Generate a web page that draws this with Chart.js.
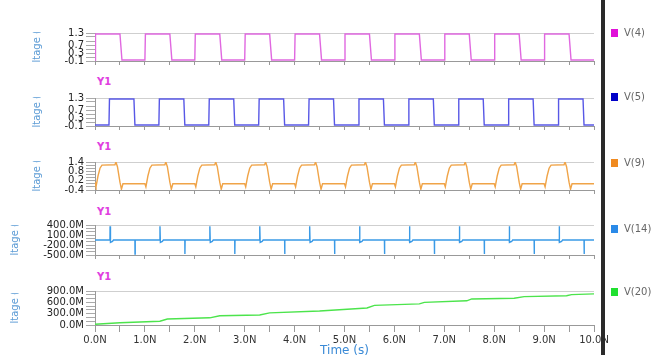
<!DOCTYPE html>
<html><head><meta charset="utf-8">
<script src="https://cdn.jsdelivr.net/npm/chart.js@4"></script>
<style>
html,body{margin:0;padding:0;background:#fff;width:666px;height:355px;overflow:hidden;font-family:'DejaVu Sans',sans-serif;}
.panel{position:absolute;left:0;width:666px;}
.y1{position:absolute;left:97px;font:bold 10px 'DejaVu Sans';color:#e040e0;line-height:10px;}
.bar{position:absolute;left:601px;top:0;width:4px;height:355px;background:#2a2a2a;z-index:5;}
.leg{position:absolute;left:611px;font:10px 'DejaVu Sans';color:#666;line-height:10px;white-space:nowrap;}
.leg span{display:inline-block;width:7px;height:8px;margin-right:6px;vertical-align:-1px;}
</style></head>
<body>
<script>
// ---------- DATA ----------
const seriesNames = ['V(4)', 'V(5)', 'V(9)', 'V(14)', 'V(20)'];

// x axis (time in ns)
const xTickValues = [0,0.5,1,1.5,2,2.5,3,3.5,4,4.5,5,5.5,6,6.5,7,7.5,8,8.5,9,9.5,10];
const xTickLabels = ['0.0N','1.0N','2.0N','3.0N','4.0N','5.0N','6.0N','7.0N','8.0N','9.0N','10.0N'];
const xLabelValues = [0,1,2,3,4,5,6,7,8,9,10];

// y axis ticks per panel
const v4TickValues = [-0.1,0.1,0.3,0.5,0.7,0.9,1.1,1.3];
const v4LabelValues = [1.3,0.7,0.3,-0.1];
const v4Labels = ['1.3','0.7','0.3','-0.1'];
const v5TickValues = [-0.1,0.1,0.3,0.5,0.7,0.9,1.1,1.3];
const v5LabelValues = [1.3,0.7,0.3,-0.1];
const v5Labels = ['1.3','0.7','0.3','-0.1'];
const v9TickValues = [-0.4,-0.2,0,0.2,0.4,0.6,0.8,1.0,1.2,1.4];
const v9LabelValues = [1.4,0.8,0.2,-0.4];
const v9Labels = ['1.4','0.8','0.2','-0.4'];
const v14TickValues = [-500,-400,-300,-200,-100,0,100,200,300,400];
const v14LabelValues = [400,100,-200,-500];
const v14Labels = ['400.0M','100.0M','-200.0M','-500.0M'];
const v20TickValues = [0,100,200,300,400,500,600,700,800,900];
const v20LabelValues = [900,600,300,0];
const v20Labels = ['900.0M','600.0M','300.0M','0.0M'];

// V(4)
const v4Time = [0,0.01,0.5,0.54, 1,1.01,1.5,1.54, 2,2.01,2.5,2.54, 3,3.01,3.5,3.54, 4,4.01,4.5,4.54,
                5,5.01,5.5,5.54, 6,6.01,6.5,6.54, 7,7.01,7.5,7.54, 8,8.01,8.5,8.54, 9,9.01,9.5,9.54, 10];
const v4Volt = [-0.05,1.25,1.25,-0.05, -0.05,1.25,1.25,-0.05, -0.05,1.25,1.25,-0.05, -0.05,1.25,1.25,-0.05, -0.05,1.25,1.25,-0.05,
                -0.05,1.25,1.25,-0.05, -0.05,1.25,1.25,-0.05, -0.05,1.25,1.25,-0.05, -0.05,1.25,1.25,-0.05, -0.05,1.25,1.25,-0.05, -0.05];

// V(5)
const v5Time = [0, 0.28,0.29,0.78,0.8, 1.28,1.29,1.78,1.8, 2.28,2.29,2.78,2.8, 3.28,3.29,3.78,3.8, 4.28,4.29,4.78,4.8,
                5.28,5.29,5.78,5.8, 6.28,6.29,6.78,6.8, 7.28,7.29,7.78,7.8, 8.28,8.29,8.78,8.8, 9.28,9.29,9.78,9.8, 10];
const v5Volt = [-0.05, -0.05,1.25,1.25,-0.05, -0.05,1.25,1.25,-0.05, -0.05,1.25,1.25,-0.05, -0.05,1.25,1.25,-0.05, -0.05,1.25,1.25,-0.05,
                -0.05,1.25,1.25,-0.05, -0.05,1.25,1.25,-0.05, -0.05,1.25,1.25,-0.05, -0.05,1.25,1.25,-0.05, -0.05,1.25,1.25,-0.05, -0.05];

// V(9)
const v9Time = [
 0,0.02,0.06,0.10,0.14,0.40,0.42,0.45,0.50,0.53,0.56,
 1,1.02,1.06,1.10,1.14,1.40,1.42,1.45,1.50,1.53,1.56,
 2,2.02,2.06,2.10,2.14,2.40,2.42,2.45,2.50,2.53,2.56,
 3,3.02,3.06,3.10,3.14,3.40,3.42,3.45,3.50,3.53,3.56,
 4,4.02,4.06,4.10,4.14,4.40,4.42,4.45,4.50,4.53,4.56,
 5,5.02,5.06,5.10,5.14,5.40,5.42,5.45,5.50,5.53,5.56,
 6,6.02,6.06,6.10,6.14,6.40,6.42,6.45,6.50,6.53,6.56,
 7,7.02,7.06,7.10,7.14,7.40,7.42,7.45,7.50,7.53,7.56,
 8,8.02,8.06,8.10,8.14,8.40,8.42,8.45,8.50,8.53,8.56,
 9,9.02,9.06,9.10,9.14,9.40,9.42,9.45,9.50,9.53,9.56,
 10];
const v9Volt = [
 0.1,-0.2,0.5,1.0,1.2,1.22,1.4,1.1,0.1,-0.35,0,
 0,-0.2,0.5,1.0,1.2,1.22,1.4,1.1,0.1,-0.35,0,
 0,-0.2,0.5,1.0,1.2,1.22,1.4,1.1,0.1,-0.35,0,
 0,-0.2,0.5,1.0,1.2,1.22,1.4,1.1,0.1,-0.35,0,
 0,-0.2,0.5,1.0,1.2,1.22,1.4,1.1,0.1,-0.35,0,
 0,-0.2,0.5,1.0,1.2,1.22,1.4,1.1,0.1,-0.35,0,
 0,-0.2,0.5,1.0,1.2,1.22,1.4,1.1,0.1,-0.35,0,
 0,-0.2,0.5,1.0,1.2,1.22,1.4,1.1,0.1,-0.35,0,
 0,-0.2,0.5,1.0,1.2,1.22,1.4,1.1,0.1,-0.35,0,
 0,-0.2,0.5,1.0,1.2,1.22,1.4,1.1,0.1,-0.35,0,
 0];

// V(14) (M units)
const v14Time = [0,
 0.30,0.302,0.31,0.35,0.37, 0.80,0.802,0.806,
 1.30,1.302,1.31,1.35,1.37, 1.80,1.802,1.806,
 2.30,2.302,2.31,2.35,2.37, 2.80,2.802,2.806,
 3.30,3.302,3.31,3.35,3.37, 3.80,3.802,3.806,
 4.30,4.302,4.31,4.35,4.37, 4.80,4.802,4.806,
 5.30,5.302,5.31,5.35,5.37, 5.80,5.802,5.806,
 6.30,6.302,6.31,6.35,6.37, 6.80,6.802,6.806,
 7.30,7.302,7.31,7.35,7.37, 7.80,7.802,7.806,
 8.30,8.302,8.31,8.35,8.37, 8.80,8.802,8.806,
 9.30,9.302,9.31,9.35,9.37, 9.80,9.802,9.806,
 10];
const v14Volt = [-50,
 -50,360,-120,-90,-50, -50,-470,-50,
 -50,360,-120,-90,-50, -50,-470,-50,
 -50,360,-120,-90,-50, -50,-470,-50,
 -50,360,-120,-90,-50, -50,-470,-50,
 -50,360,-120,-90,-50, -50,-470,-50,
 -50,360,-120,-90,-50, -50,-470,-50,
 -50,360,-120,-90,-50, -50,-470,-50,
 -50,360,-120,-90,-50, -50,-470,-50,
 -50,360,-120,-90,-50, -50,-470,-50,
 -50,360,-120,-90,-50, -50,-470,-50,
 -50];

// V(20) (M units)
const v20Time = [0,0.5,1.3,1.45,2.3,2.5,3.3,3.5,4.5,5.45,5.6,6.5,6.6,7.45,7.55,8.4,8.6,9.45,9.55,10];
const v20Volt = [20,60,100,160,190,245,265,320,370,450,520,560,600,640,690,710,750,775,805,825];

// ---------- STYLE / LAYOUT ----------
const lineColors = ['#e068e0','#5858e6','#f0a448','#3a9ae6','#4ce44c'];
const legendColors = ['#e010d8','#0000c8','#f08a20','#2a8ae8','#20e030'];
const panels = [
  {top:31, bottom:64, min:-0.1, max:1.3, t:v4Time, v:v4Volt, ticks:v4TickValues, lv:v4LabelValues, lt:v4Labels, tx:37},
  {top:96, bottom:129, min:-0.1, max:1.3, t:v5Time, v:v5Volt, ticks:v5TickValues, lv:v5LabelValues, lt:v5Labels, y1:82, tx:37},
  {top:160, bottom:193, min:-0.4, max:1.4, t:v9Time, v:v9Volt, ticks:v9TickValues, lv:v9LabelValues, lt:v9Labels, y1:147, tx:37},
  {top:223, bottom:258, min:-500, max:400, t:v14Time, v:v14Volt, ticks:v14TickValues, lv:v14LabelValues, lt:v14Labels, y1:212, tx:15},
  {top:289, bottom:325, min:0, max:900, t:v20Time, v:v20Volt, ticks:v20TickValues, lv:v20LabelValues, lt:v20Labels, y1:277, tx:15, last:true}
];
const legendY = [33, 97, 163, 229, 292];

const yTitlePlugin = {
  id:'yTitle',
  afterDraw(chart, args, opts){
    const ca = chart.chartArea, ctx = chart.ctx;
    const cy = (ca.top + ca.bottom)/2;
    const tx = opts.x;
    ctx.save();
    ctx.beginPath(); ctx.rect(tx-10, cy-15, 20, 30); ctx.clip();
    ctx.translate(tx, cy); ctx.rotate(-Math.PI/2);
    ctx.font = '10px "DejaVu Sans"'; ctx.fillStyle = '#5b9bd5';
    ctx.textAlign = 'center'; ctx.textBaseline = 'middle';
    ctx.fillText('Voltage (V)', 0, 0);
    ctx.restore();
  }
};

function findLabel(vals, labels, v){
  for (let i=0;i<vals.length;i++) if (Math.abs(vals[i]-v) < 1e-6) return labels[i];
  return '';
}

panels.forEach((p, i) => {
  const padTop = 6;
  const xH = p.last ? 33 : 5;
  const h = padTop + (p.bottom - p.top) + xH;
  const div = document.createElement('div');
  div.className = 'panel';
  div.style.top = (p.top - padTop) + 'px';
  div.style.height = h + 'px';
  const canvas = document.createElement('canvas');
  canvas.width = 666; canvas.height = h;
  div.appendChild(canvas);
  document.body.appendChild(div);

  new Chart(canvas, {
    type: 'line',
    data: { datasets: [{
      label: seriesNames[i],
      data: p.t.map((t, k) => ({x: t, y: p.v[k]})),
      borderColor: lineColors[i], borderWidth: 1.4, pointRadius: 0, tension: 0, fill: false
    }]},
    options: {
      responsive: false, maintainAspectRatio: false, animation: false,
      layout: { padding: { top: padTop, left: 0, right: 72, bottom: 0 } },
      plugins: { legend: { display: false }, tooltip: { enabled: false }, yTitle: { x: p.tx } },
      scales: {
        x: {
          type: 'linear', min: 0, max: 10,
          afterFit: s => { s.height = xH; },
          afterBuildTicks: s => { s.ticks = xTickValues.map(v => ({value: v})); },
          ticks: {
            display: !!p.last, autoSkip: false, maxRotation: 0, padding: 2,
            font: { size: 10, family: 'DejaVu Sans' }, color: '#333',
            callback: v => findLabel(xLabelValues, xTickLabels, v)
          },
          grid: { drawOnChartArea: false, tickLength: p.last ? 7 : 4, tickColor: '#999' },
          border: { color: '#999' },
          title: { display: !!p.last, text: 'Time (s)', color: '#3a8ad6', font: { size: 12, family: 'DejaVu Sans' }, padding: 0 }
        },
        y: {
          min: p.min, max: p.max,
          afterFit: s => { s.width = 95; },
          afterBuildTicks: s => { s.ticks = p.ticks.map(v => ({value: v})); },
          ticks: {
            autoSkip: false, padding: 2, font: { size: 10, family: 'DejaVu Sans' }, color: '#222',
            callback: v => findLabel(p.lv, p.lt, v)
          },
          grid: {
            color: c => (c.tick && Math.abs(c.tick.value - p.max) < 1e-6) ? '#cfcfcf' : 'rgba(0,0,0,0)',
            tickLength: 9, tickColor: '#aaa'
          },
          border: { color: '#999' }
        }
      }
    },
    plugins: [yTitlePlugin]
  });

  if (p.y1 !== undefined) {
    const y = document.createElement('div');
    y.className = 'y1'; y.style.top = (p.y1 - 5) + 'px'; y.textContent = 'Y1';
    document.body.appendChild(y);
  }
  const lg = document.createElement('div');
  lg.className = 'leg'; lg.style.top = (legendY[i] - 5) + 'px';
  lg.innerHTML = '<span style="background:' + legendColors[i] + '"></span>' + seriesNames[i];
  document.body.appendChild(lg);
});

const bar = document.createElement('div'); bar.className = 'bar'; document.body.appendChild(bar);
</script>
</body></html>
